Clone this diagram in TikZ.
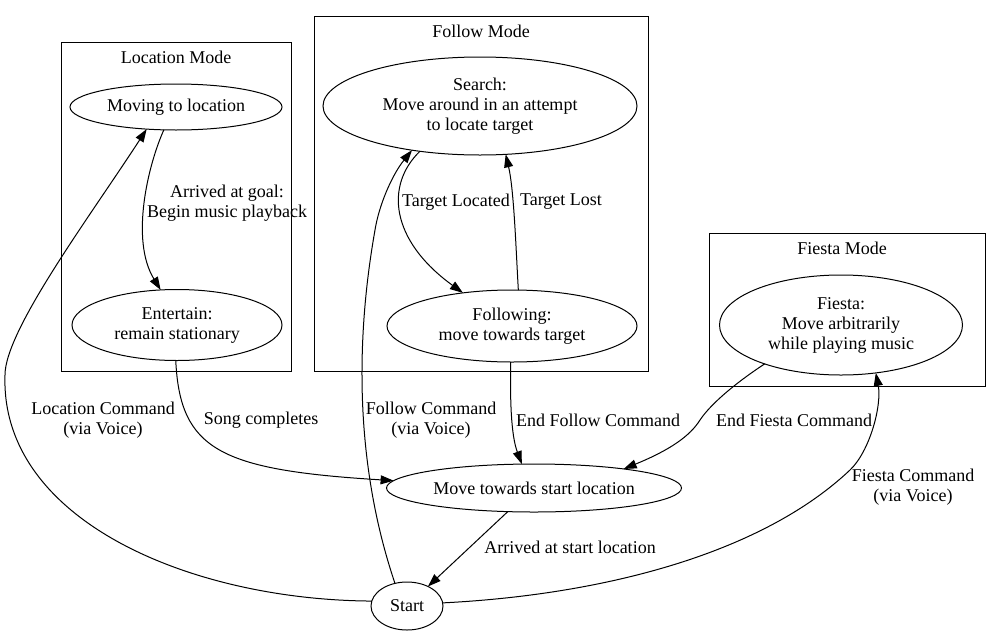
\documentclass[tikz,border=0pt]{standalone}
\usepackage{fontspec}
\setmainfont{Liberation Serif}
\usetikzlibrary{shapes.geometric, arrows.meta}

\begin{document}
\begin{tikzpicture}[x=1pt, y=-1pt, line width=1pt,
		font=\fontsize{18}{20}\selectfont,
		state/.style={draw, ellipse, inner sep=0pt, outer sep=0pt, align=center},
		lbl/.style={align=center, inner sep=0pt},
		trans/.style={-{Triangle[length=13pt, width=9pt]}}]
			\useasboundingbox (0,0) rectangle (990,635);
			
			\draw
				(61,42) rectangle (291,371)
				(314,16) rectangle (648,371)
				(709,233) rectangle (985,386);
			\node (locmode) at (176,57) {Location Mode};
			\node (followmode) at (481,31) {Follow Mode};
			\node (fiestamode) at (842,248) {Fiesta Mode};
			
			\node[state, minimum width=212, minimum height=46] (moving) at (176,107) {Moving to location};
			\node[state, minimum width=210, minimum height=71] (entertain) at (177,325) {Entertain:\\remain stationary};
			\node[state, minimum width=314, minimum height=98] (search) at (480,106) {Search:\\Move around in an attempt\\to locate target};
			\node[state, minimum width=250, minimum height=72] (following) at (512,326) {Following:\\move towards target};
			\node[state, minimum width=243, minimum height=100] (fiesta) at (841,325) {Fiesta:\\Move arbitrarily\\while playing music};
			\node[state, minimum width=295, minimum height=48] (home) at (534,488) {Move towards start location};
			\node[state, minimum width=72, minimum height=48] (start) at (407,606) {Start};
			
			\begin{scope}[trans]
				\draw (moving.242) .. controls (148,165) and (130,240) .. (entertain.115);
				\draw (search.217) .. controls (385,185) and (390,240) .. (following.146);
				\draw (following.80) .. controls (516,250) and (514,190) .. (search.-62);
				\draw (start.118) .. controls (360,480) and (352,360) .. (375,230)
					.. controls (379,205) and (392,175) .. (search.213);
				\draw (entertain.268) .. controls (180,450) and (220,470) .. (home.177);
				\draw (following.268) .. controls (510,400) and (511,435) .. (home.117);
				\draw (fiesta.207) .. controls (740,380) and (712,402) .. (700,420)
					.. controls (690,436) and (670,450) .. (home.12);
				\draw (home.222) -- (start.43);
				\draw (start.172) .. controls (190,600) and (0,520) .. (5,375)
					.. controls (5,330) and (91,215) .. (moving.217);
				\draw (start.5) .. controls (600,595) and (760,555) .. (850,470)
					.. controls (870,451) and (882,405) .. (fiesta.-54);
			\end{scope}
			
			\node[lbl] (goal) at (227,203) {Arrived at goal:\\Begin music playback};
			\node[lbl] (located) at (456,202) {Target Located};
			\node[lbl] (lost) at (561,202) {Target Lost};
			\node[lbl] (loccmd) at (103,420) {Location Command\\(via Voice)};
			\node[lbl] (song) at (261,420) {Song completes};
			\node[lbl] (followcmd) at (431,420) {Follow Command\\(via Voice)};
			\node[lbl] (endfollow) at (598,420) {End Follow Command};
			\node[lbl] (endfiesta) at (794,420) {End Fiesta Command};
			\node[lbl] (fiestacmd) at (913,487) {Fiesta Command\\(via Voice)};
			\node[lbl] (arrived) at (570,547) {Arrived at start location};
		\end{tikzpicture}
\end{document}
